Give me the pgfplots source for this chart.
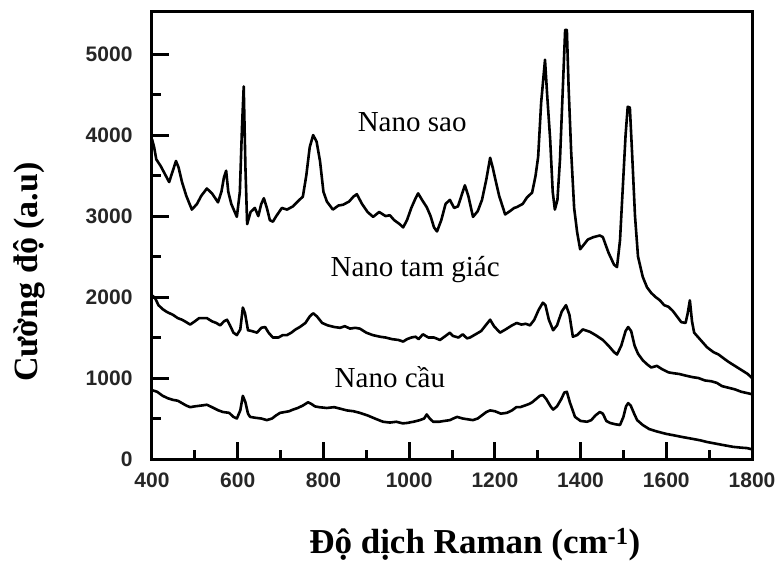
\documentclass[border=0pt]{standalone}
\usepackage{fontspec}
\setmainfont{Liberation Serif}
\newfontfamily\ticksans{Liberation Sans}
\usepackage{pgfplots}
\pgfplotsset{compat=1.18}

% Raman spectra of silver nanoparticles with three shapes
\pgfplotstableread{
x y
400 3950
405 3850
410 3700
420 3620
430 3520
440 3420
448 3550
456 3680
462 3600
470 3420
480 3250
493 3080
505 3150
515 3250
528 3340
540 3280
554 3170
562 3300
568 3480
573 3560
578 3300
585 3150
598 2990
605 3300
610 4100
614 4600
618 3600
622 2900
630 3050
640 3100
648 3000
655 3150
661 3220
668 3100
675 2950
682 2930
690 3000
703 3100
715 3080
729 3120
740 3180
752 3240
760 3500
768 3850
776 4000
784 3920
792 3680
800 3300
808 3180
822 3080
835 3130
846 3140
860 3180
870 3240
878 3270
890 3150
903 3050
916 2990
930 3050
945 3000
955 3010
965 2950
978 2900
986 2860
995 2950
1005 3100
1015 3220
1021 3280
1030 3200
1041 3110
1050 3000
1058 2860
1065 2810
1075 2950
1085 3150
1095 3200
1105 3100
1114 3120
1122 3250
1130 3380
1138 3250
1149 2990
1160 3060
1170 3200
1180 3450
1189 3720
1195 3600
1200 3480
1210 3250
1224 3020
1235 3060
1245 3100
1251 3110
1265 3150
1275 3230
1287 3290
1295 3500
1301 3730
1308 4400
1317 4930
1322 4500
1329 3950
1335 3300
1340 3080
1346 3200
1352 3700
1358 4500
1364 5300
1368 5300
1372 4600
1378 3800
1385 3100
1392 2800
1399 2590
1408 2650
1417 2710
1430 2740
1445 2760
1452 2740
1465 2550
1478 2400
1485 2370
1492 2700
1498 3300
1505 4000
1510 4350
1515 4340
1520 3800
1527 3000
1534 2500
1545 2250
1555 2120
1565 2050
1575 2000
1585 1960
1595 1900
1605 1880
1615 1830
1625 1760
1635 1690
1645 1680
1650 1800
1655 1960
1660 1700
1665 1560
1675 1500
1685 1440
1695 1380
1710 1320
1722 1290
1732 1250
1745 1200
1760 1150
1775 1100
1790 1050
1800 1000
}\sao

\pgfplotstableread{
x y
400 2020
407 1990
415 1900
425 1850
435 1815
449 1780
460 1740
470 1720
480 1690
489 1660
500 1700
510 1740
528 1740
540 1700
550 1680
559 1650
568 1700
575 1720
582 1650
590 1560
598 1530
606 1600
612 1870
617 1800
624 1590
633 1580
645 1560
655 1620
664 1630
672 1560
682 1500
695 1500
705 1530
715 1530
725 1560
735 1600
745 1630
758 1680
768 1760
776 1800
785 1760
797 1680
810 1650
825 1630
839 1620
850 1640
862 1610
874 1620
885 1610
900 1560
915 1530
932 1510
945 1500
960 1480
975 1470
986 1450
995 1480
1005 1500
1015 1510
1022 1480
1032 1540
1045 1500
1058 1500
1072 1470
1085 1520
1095 1560
1102 1520
1115 1500
1125 1540
1135 1490
1142 1500
1155 1540
1168 1580
1180 1660
1189 1720
1198 1640
1212 1560
1225 1600
1240 1650
1251 1680
1262 1660
1272 1670
1282 1650
1292 1720
1302 1840
1312 1930
1318 1900
1326 1720
1336 1590
1345 1650
1356 1820
1366 1900
1374 1780
1382 1510
1392 1530
1405 1600
1422 1570
1435 1530
1452 1470
1465 1400
1478 1320
1485 1290
1495 1400
1505 1580
1511 1630
1518 1580
1526 1400
1534 1300
1545 1220
1555 1170
1565 1130
1578 1150
1590 1110
1605 1070
1616 1060
1630 1050
1645 1030
1662 1010
1675 1000
1690 970
1705 960
1718 940
1730 900
1745 880
1760 860
1775 830
1788 815
1800 800
}\tamgiac

\pgfplotstableread{
x y
400 850
412 830
425 780
437 750
449 730
460 720
470 690
480 660
489 640
500 650
515 660
528 670
540 640
555 600
566 580
580 570
590 520
598 500
606 600
612 780
618 700
624 560
629 520
640 510
655 500
668 480
680 500
690 540
699 570
710 580
720 590
729 610
740 630
752 660
764 700
772 680
780 650
790 640
808 630
825 640
840 620
855 600
870 590
885 570
902 540
920 500
939 460
955 450
970 460
985 440
995 445
1010 460
1025 480
1035 500
1041 550
1048 500
1056 460
1070 460
1082 470
1095 480
1103 500
1112 520
1125 500
1137 490
1149 480
1160 500
1170 540
1180 580
1189 600
1200 590
1214 560
1228 570
1240 600
1250 640
1259 640
1270 660
1280 680
1287 700
1296 740
1305 780
1312 790
1320 740
1330 650
1336 610
1345 650
1355 740
1362 820
1368 830
1375 700
1387 520
1400 470
1415 460
1425 480
1435 540
1445 580
1452 560
1460 470
1469 445
1480 430
1492 420
1500 520
1506 650
1511 690
1517 660
1525 560
1532 480
1545 420
1560 370
1578 340
1600 310
1620 290
1639 270
1660 250
1680 230
1695 210
1715 190
1735 170
1756 150
1775 140
1788 135
1800 120
}\cau

\begin{document}
\begin{tikzpicture}
\begin{axis}[
  scale only axis,
  width=600pt, height=447pt,
  xmin=400, xmax=1800,
  ymin=0, ymax=5520,
  axis line style={line width=3pt},
  xtick={400,600,...,1800},
  ytick={0,1000,...,5000},
  minor xtick={500,700,...,1700},
  minor ytick={500,1500,...,4500},
  tick align=inside,
  tick pos=left,
  major tick style={line width=3pt, black},
  minor tick style={line width=3pt, black},
  major tick length=17pt,
  minor tick length=9pt,
  /pgf/number format/assume math mode=true,
  /pgf/number format/set thousands separator={},
  ticklabel style={font=\ticksans\bfseries\fontsize{21}{21}\selectfont, text=black!85},
  xticklabel style={yshift=-10pt},
  yticklabel style={xshift=-16pt},
  xlabel={Độ dịch Raman (cm\textsuperscript{-1})},
  ylabel={Cường độ (a.u)},
  xlabel style={font=\bfseries\fontsize{35}{35}\selectfont, at={(axis description cs:0.538,-0.192)}, anchor=center},
  ylabel style={font=\bfseries\fontsize{34}{34}\selectfont, at={(axis description cs:-0.205,0.418)}, anchor=center},
  clip=false,
]
\addplot[black, no markers, line width=2.6pt, line join=round] table[x=x,y=y] {\sao};
\addplot[black, no markers, line width=2.6pt, line join=round] table[x=x,y=y] {\tamgiac};
\addplot[black, no markers, line width=2.6pt, line join=round] table[x=x,y=y] {\cau};
\node[font=\fontsize{29}{29}\selectfont] at (axis cs:1007,4162) {Nano sao};
\node[font=\fontsize{29}{29}\selectfont] at (axis cs:1014,2334) {Nano tam giác};
\node[font=\fontsize{29}{29}\selectfont] at (axis cs:955,1013) {Nano cầu};
\end{axis}
\pgfresetboundingbox
\path ([shift={(-152pt,-102pt)}]current axis.south west) rectangle ([shift={(28pt,12pt)}]current axis.north east);
\end{tikzpicture}
\end{document}
